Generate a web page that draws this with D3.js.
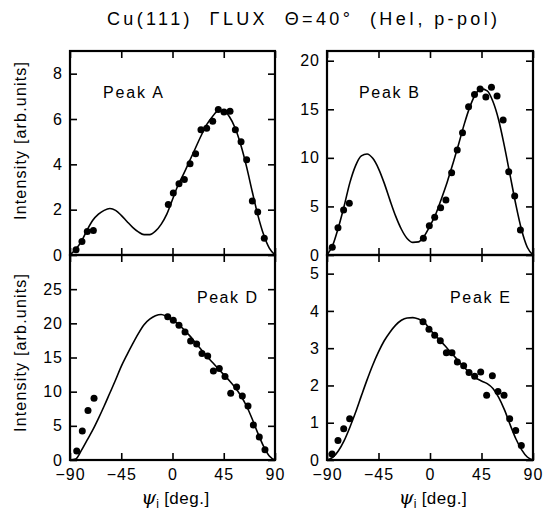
<!DOCTYPE html>
<html><head><meta charset="utf-8">
<script src="https://cdn.jsdelivr.net/npm/d3@7/dist/d3.min.js"></script>
<style>
body{margin:0;background:#fff}
text{font-family:"Liberation Sans",Arial,sans-serif;fill:#000}
</style>
</head><body>
<svg id="chart" width="543" height="510"></svg>
<script>
// ---------- data ----------
const titleText = "Cu(111)  \u0393LUX  \u0398=40\u00B0  (HeI, p-pol)";
const xTicks = [-90, -45, 0, 45, 90];
const xTickLabels = ["\u221290", "\u221245", "0", "45", "90"];
const curveAngles = [-90,-85,-80,-75,-70,-65,-60,-55,-50,-45,-40,-35,-30,-25,-20,-15,-10,-5,0,5,10,15,20,25,30,35,40,45,50,55,60,65,70,75,80,85,90];

const curveA = [0,0.25,0.6,1.1,1.53,1.8,1.97,2.05,1.97,1.75,1.48,1.22,1.02,0.9,0.9,1.05,1.35,1.8,2.45,3.1,3.6,4.15,4.7,5.25,5.75,6.1,6.35,6.35,6.1,5.6,4.85,3.9,2.8,1.75,0.9,0.3,0];
const pointsAx = [-84.7,-79.5,-74.8,-69.5,-3.7,0.7,5.7,10.4,15.4,20.3,25.0,30.0,35.3,40.2,45.2,50.5,55.2,60.2,65.1,70.1,74.8,80.6];
const pointsAy = [0.23,0.6,1.04,1.08,2.23,2.74,3.14,3.33,4.03,4.47,5.53,5.59,5.9,6.42,6.31,6.34,5.53,5.0,4.2,2.38,1.9,0.74];

const curveB = [0,1.0,2.85,5.05,7.45,9.2,10.2,10.4,9.95,8.9,7.4,5.65,4.0,2.65,1.7,1.3,1.35,1.95,3.0,4.2,5.8,7.5,9.4,11.4,13.5,15.3,16.6,17.1,16.9,15.8,13.9,11.2,8.2,5.2,2.6,0.8,0];
const pointsBx = [-85.4,-80.4,-75.5,-70.5,-5.8,-0.6,4.1,9.3,13.9,18.9,23.8,28.4,33.7,38.9,43.8,48.8,53.7,58.6,63.9,68.8,74.0,79.0];
const pointsBy = [0.79,2.81,4.63,5.32,1.72,3.02,3.88,4.87,5.66,8.47,10.81,12.59,15.27,16.53,17.08,16.26,17.26,16.36,13.89,8.58,6.07,2.57];

const curveD = [0,0.15,1.4,2.9,4.4,6.1,7.9,9.8,11.7,13.7,15.4,17.0,18.5,19.8,20.6,21.1,21.3,21.0,20.5,19.9,19.1,18.2,17.2,16.2,15.2,14.3,13.4,12.5,11.6,10.6,9.4,7.9,6.0,3.9,2.0,0.6,0];
const pointsDx = [-84.1,-79.2,-74.2,-68.9,-4.2,0.7,5.7,11.0,15.9,21.2,25.9,30.9,35.9,41.1,46.1,51.1,56.3,61.3,66.3,71.0,76.2,81.2];
const pointsDy = [1.32,4.25,7.23,9.03,20.95,20.46,19.73,18.75,17.43,16.99,15.58,15.23,13.04,13.38,12.21,9.77,10.69,9.38,7.91,5.13,3.37,1.51];

const curveE = [0,0.07,0.25,0.52,0.88,1.28,1.72,2.15,2.55,2.9,3.2,3.43,3.62,3.75,3.81,3.82,3.78,3.7,3.5,3.33,3.17,3.0,2.83,2.65,2.48,2.33,2.2,2.12,2.05,1.92,1.68,1.35,0.95,0.57,0.28,0.08,0];
const pointsEx = [-85.6,-80.4,-75.4,-70.2,-6.1,-0.9,4.1,9.0,14.3,19.2,23.9,29.4,34.1,39.0,44.3,49.5,54.5,59.4,64.7,69.6,74.9,79.8];
const pointsEy = [0.16,0.52,0.84,1.11,3.71,3.51,3.35,3.2,2.88,2.88,2.63,2.53,2.35,2.25,2.36,1.74,2.26,1.84,1.74,1.11,0.79,0.39];

const peakNames = ["Peak A", "Peak B", "Peak D", "Peak E"];
const yMaxes = [9, 21, 30, 5.5];
const yTicksA = [0,2,4,6,8];
const yTicksB = [0,5,10,15,20];
const yTicksD = [0,5,10,15,20,25];
const yTicksE = [0,1,2,3,4,5];
const yLabel = "Intensity [arb.units]";

// ---------- layout ----------
const svg = d3.select("#chart");
const cols = [[70, 275], [327, 533]];
const rows = [[51, 255], [255, 460]];

const panels = [
  {name: peakNames[0], yMax: yMaxes[0], yTicks: yTicksA, curve: curveA, px: pointsAx, py: pointsAy, c: 0, r: 0, lx: 103, ly: 98, labCy: 141},
  {name: peakNames[1], yMax: yMaxes[1], yTicks: yTicksB, curve: curveB, px: pointsBx, py: pointsBy, c: 1, r: 0, lx: 359, ly: 98},
  {name: peakNames[2], yMax: yMaxes[2], yTicks: yTicksD, curve: curveD, px: pointsDx, py: pointsDy, c: 0, r: 1, lx: 197, ly: 303, labCy: 353},
  {name: peakNames[3], yMax: yMaxes[3], yTicks: yTicksE, curve: curveE, px: pointsEx, py: pointsEy, c: 1, r: 1, lx: 450, ly: 303}
];

svg.append("text").attr("x", 107).attr("y", 25)
  .attr("textLength", 390).attr("lengthAdjust", "spacing")
  .style("font-size", "18px").style("white-space", "pre").attr("xml:space", "preserve")
  .text(titleText);

panels.forEach(p => {
  const [x0, x1] = cols[p.c];
  const [y0, y1] = rows[p.r];
  const x = d3.scaleLinear().domain([-90, 90]).range([x0, x1]);
  const y = d3.scaleLinear().domain([0, p.yMax]).range([y1, y0]);
  const g = svg.append("g");

  const tickLen = 7;
  const left = g.append("g").attr("transform", `translate(${x0},0)`)
    .call(d3.axisLeft(y).tickValues(p.yTicks).tickSize(-tickLen).tickPadding(7).tickFormat(d3.format("d")));
  const right = g.append("g").attr("transform", `translate(${x1},0)`)
    .call(d3.axisRight(y).tickValues(p.yTicks).tickSize(-tickLen).tickFormat(""));
  const top = g.append("g").attr("transform", `translate(0,${y0})`)
    .call(d3.axisTop(x).tickValues(xTicks).tickSize(-tickLen).tickFormat(""));
  const bottom = g.append("g").attr("transform", `translate(0,${y1})`)
    .call(d3.axisBottom(x).tickValues(xTicks).tickSize(-tickLen).tickPadding(9)
      .tickFormat((d, i) => p.r === 1 ? xTickLabels[i] : ""));
  [left, right, top, bottom].forEach(a => {
    a.select(".domain").remove();
    a.selectAll("line").attr("stroke", "#000").attr("stroke-width", 1.6);
    a.selectAll("text").style("font-size", "16px").style("letter-spacing", "1px")
      .style("font-family", "'Liberation Sans',Arial,sans-serif");
  });

  g.append("rect").attr("x", x0).attr("y", y0).attr("width", x1 - x0).attr("height", y1 - y0)
    .attr("fill", "none").attr("stroke", "#000").attr("stroke-width", 2.2);

  const line = d3.line().x((d, i) => x(curveAngles[i])).y(d => y(d)).curve(d3.curveMonotoneX);
  g.append("path").datum(p.curve).attr("d", line).attr("fill", "none")
    .attr("stroke", "#000").attr("stroke-width", 1.6);

  g.selectAll("circle.pt").data(p.px).enter().append("circle")
    .attr("cx", d => x(d)).attr("cy", (d, i) => y(p.py[i])).attr("r", 3.5).attr("fill", "#000");

  g.append("text").attr("x", p.lx).attr("y", p.ly).style("font-size", "16px")
    .attr("textLength", 60).attr("lengthAdjust", "spacing").text(p.name);

  if (p.c === 0) {
    g.append("text").attr("transform", `translate(26,${p.labCy}) rotate(-90)`).attr("text-anchor", "middle")
      .attr("textLength", 158).attr("lengthAdjust", "spacing")
      .style("font-size", "16px").text(yLabel);
  }
  if (p.r === 1) {
    const t = g.append("text").attr("x", (x0 + x1) / 2 + 3).attr("y", 504).attr("text-anchor", "middle").style("font-size", "17px");
    t.append("tspan").style("font-style", "italic").style("font-family", "'DejaVu Serif',serif").style("font-size", "19px").text("\u03C8");
    t.append("tspan").attr("dy", 4).style("font-size", "12px").text("i");
    t.append("tspan").attr("dy", -4).style("letter-spacing", "0.5px").text(" [deg.]");
  }
});
</script>
</body></html>
